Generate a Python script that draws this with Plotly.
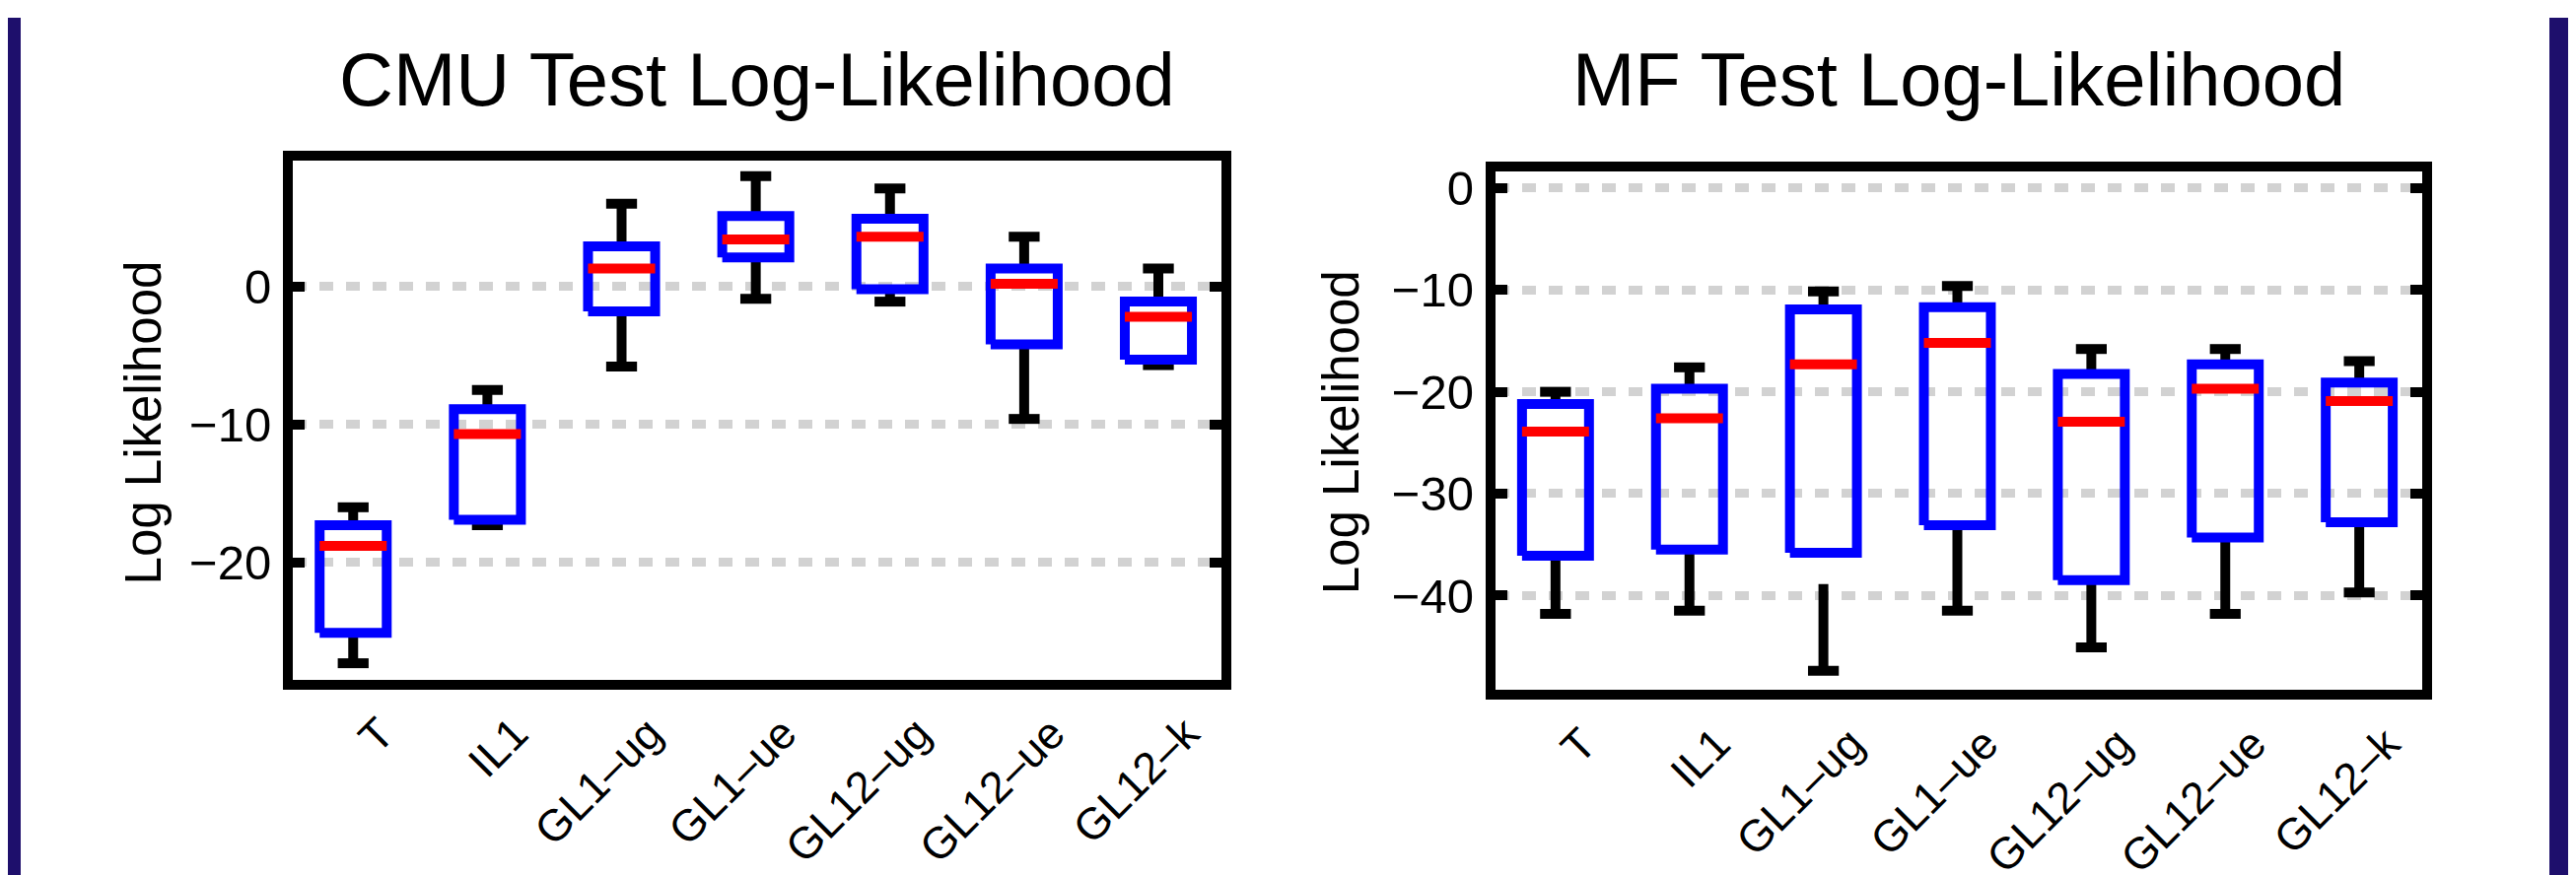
import plotly.graph_objects as go

# ---------------- data ----------------
categories = ["T", "IL1", "GL1–ug", "GL1–ue", "GL12–ug", "GL12–ue", "GL12–k"]

# CMU Test Log-Likelihood
cmu_upper = [-16.0, -7.5, 6.0, 8.0, 7.1, 3.6, 1.3]
cmu_q3 = [-17.3, -8.9, 2.9, 5.1, 4.9, 1.3, -1.1]
cmu_median = [-18.8, -10.7, 1.3, 3.4, 3.6, 0.2, -2.2]
cmu_q1 = [-25.1, -16.9, -1.8, 2.1, -0.2, -4.2, -5.3]
cmu_lower = [-27.3, -17.3, -5.8, -0.9, -1.1, -9.6, -5.7]

# MF Test Log-Likelihood
mf_upper = [-20.0, -17.6, -10.15, -9.6, -15.8, -15.8, -17.0]
mf_q3 = [-21.2, -19.7, -11.9, -11.7, -18.25, -17.3, -19.1]
mf_median = [-23.9, -22.6, -17.3, -15.2, -22.95, -19.7, -20.9]
mf_q1 = [-36.1, -35.5, -35.8, -33.1, -38.5, -34.3, -32.8]
mf_lower = [-41.8, -41.5, -47.4, -41.5, -45.1, -41.8, -39.7]

titles = ["CMU Test Log-Likelihood", "MF Test Log-Likelihood"]
y_title = "Log Likelihood"

# ---------------- style ----------------
W, H = 2613, 888
FONT = "Liberation Sans, Arial, Helvetica, sans-serif"
BOX_HALF = 0.25
CAP_HALF = 0.115
LW = 10

fig = go.Figure()


def add_boxes(xa, ya, upper, q3, med, q1, lower):
    pos = list(range(1, len(categories) + 1))
    # whiskers (drawn from the cap toward the box)
    for i, p in enumerate(pos):
        for a, b in ((upper[i], q3[i]), (lower[i], q1[i])):
            fig.add_trace(go.Scatter(
                x=[p, p], y=[a, b], mode="lines", xaxis=xa, yaxis=ya,
                line=dict(color="black", width=LW, dash="88px,400px"),
                showlegend=False, hoverinfo="skip"))
    # caps
    cx, cy = [], []
    for i, p in enumerate(pos):
        for v in (upper[i], lower[i]):
            cx += [p - CAP_HALF, p + CAP_HALF, None]
            cy += [v, v, None]
    fig.add_trace(go.Scatter(x=cx, y=cy, mode="lines", xaxis=xa, yaxis=ya,
                             line=dict(color="black", width=LW),
                             showlegend=False, hoverinfo="skip"))
    # boxes
    bx, by = [], []
    for i, p in enumerate(pos):
        bx += [p - BOX_HALF, p + BOX_HALF, p + BOX_HALF, p - BOX_HALF, p - BOX_HALF, None]
        by += [q1[i], q1[i], q3[i], q3[i], q1[i], None]
    fig.add_trace(go.Scatter(x=bx, y=by, mode="lines", xaxis=xa, yaxis=ya,
                             line=dict(color="#0000ff", width=LW),
                             showlegend=False, hoverinfo="skip"))
    # medians
    mx, my = [], []
    for i, p in enumerate(pos):
        mx += [p - BOX_HALF, p + BOX_HALF, None]
        my += [med[i], med[i], None]
    fig.add_trace(go.Scatter(x=mx, y=my, mode="lines", xaxis=xa, yaxis=ya,
                             line=dict(color="#ff0000", width=LW),
                             showlegend=False, hoverinfo="skip"))


add_boxes("x", "y", cmu_upper, cmu_q3, cmu_median, cmu_q1, cmu_lower)
add_boxes("x2", "y2", mf_upper, mf_q3, mf_median, mf_q1, mf_lower)

pos = list(range(1, len(categories) + 1))

xcommon = dict(
    tickmode="array", tickvals=pos, ticktext=categories, tickangle=-45,
    tickfont=dict(family=FONT, size=45, color="black"),
    ticklabelshift=28, ticklabelstandoff=0,
    showline=True, linecolor="black", linewidth=LW, mirror=True,
    ticks="", showgrid=False, zeroline=False, range=[0.55, 7.47],
)
ycommon = dict(
    tickmode="linear", tick0=0, dtick=10,
    tickfont=dict(family=FONT, size=49, color="black"),
    ticklabelstandoff=2,
    showline=True, linecolor="black", linewidth=LW, mirror="ticks",
    ticks="inside", ticklen=12, tickwidth=LW, tickcolor="black",
    showgrid=True, gridcolor="#d2d2d2", gridwidth=9, griddash="14px,13px",
    zeroline=False,
)

fig.update_layout(
    width=W, height=H,
    margin=dict(l=0, r=0, t=0, b=0),
    paper_bgcolor="white", plot_bgcolor="white",
    showlegend=False,
    xaxis=dict(xcommon, domain=[289 / W, 1231 / W], anchor="y"),
    yaxis=dict(ycommon, domain=[1 - 685.8 / H, 1 - 147.8 / H], anchor="x",
               range=[-28.5, 9.13]),
    xaxis2=dict(xcommon, domain=[1508.7 / W, 2449 / W], anchor="y2"),
    yaxis2=dict(ycommon, domain=[1 - 696.6 / H, 1 - 159.6 / H], anchor="x2",
                range=[-49.3, 1.6]),
)

# subplot titles
for cx, t in ((760, titles[0]), (1979, titles[1])):
    fig.add_annotation(text=t, x=cx / W, y=1 - 64 / H, xref="paper", yref="paper",
                       xanchor="center", yanchor="middle", showarrow=False,
                       font=dict(family=FONT, size=76, color="black"))
# y-axis titles
for cx, cy in ((137, 420), (1352, 430)):
    fig.add_annotation(text=y_title, x=cx / W, y=1 - cy / H, xref="paper", yref="paper",
                       xanchor="center", yanchor="middle", textangle=-90, showarrow=False,
                       font=dict(family=FONT, size=51, color="black"))

# frame borders of the slide
fig.add_shape(type="rect", xref="paper", yref="paper", x0=0, x1=13 / W, y0=0, y1=1,
              fillcolor="#1e0f6c", line_width=0, layer="above")
fig.add_shape(type="rect", xref="paper", yref="paper", x0=2578 / W, x1=2606 / W, y0=0, y1=1,
              fillcolor="#1e0f6c", line_width=0, layer="above")
fig.add_shape(type="rect", xref="paper", yref="paper", x0=2606 / W, x1=1, y0=0, y1=1,
              fillcolor="#ececec", line_width=0, layer="above")

fig.write_html("out.html")
